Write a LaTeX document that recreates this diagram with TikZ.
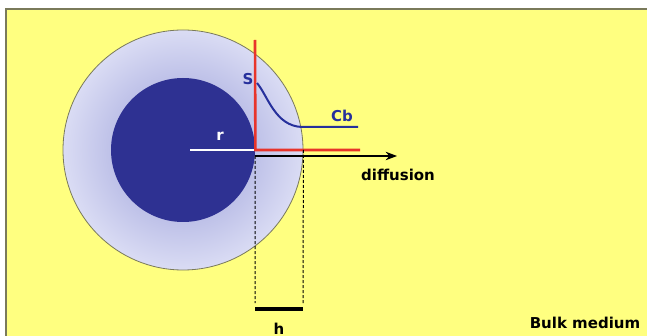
\documentclass[tikz,border=0pt]{standalone}
\usepackage{fontspec}
\setsansfont{DejaVu Sans}
\usetikzlibrary{arrows.meta}
\definecolor{bulkc}{HTML}{FFFF80}
\definecolor{framec}{HTML}{7A7A5A}
\definecolor{corec}{HTML}{2E3192}
\definecolor{ringin}{HTML}{BEC1E8}
\definecolor{ringout}{HTML}{DADCF4}
\definecolor{redc}{HTML}{E8342A}
\definecolor{profc}{HTML}{26309C}
\pgfdeclareradialshading{ringshade}{\pgfpoint{0bp}{0bp}}{%
  color(0bp)=(ringin); color(15bp)=(ringin); color(25bp)=(ringout);
  color(50bp)=(ringout)}
\newcommand{\lbl}[4]{%
  \node[inner sep=0pt, text=#3] (#1) at #2 {#4};
}

\begin{document}
\begin{tikzpicture}[x=0.5pt, y=-0.5pt, >=Stealth,
      font=\sffamily\bfseries\fontsize{7.5}{9}\selectfont]
    \useasboundingbox (0,0) rectangle (647,336);
    % bulk medium
    \fill[white] (0,0) rectangle (647,336);
    \fill[bulkc] (6,9) rectangle (647,336);
    \draw[framec, line width=1pt] (6,336) -- (6,9) -- (647,9);
    % film and particle
    \node[circle, draw=framec, line width=0.4pt, shading=ringshade,
          minimum size=120pt, inner sep=0pt] (film) at (183,150) {};
    \node[circle, fill=corec, minimum size=72pt, inner sep=0pt]
          (core) at (183,150) {};
    \coordinate (rstart) at (190,150);
    \coordinate (ytop) at (255,40);
    \coordinate (xend) at (360,150);
    \coordinate (cstart) at (257,83);
    \coordinate (cknee) at (302,127);
    \coordinate (cend) at (358,127);
    \coordinate (astart) at (255,156);
    \coordinate (aend) at (397,156);
    \coordinate (hleft) at (255,309);
    \coordinate (hright) at (303,309);
    \draw[white, line width=1.4pt] (rstart) -- (core.east);
    \draw[redc, line width=1.3pt] (ytop) -- (core.east) -- (xend);
    \draw[profc, line width=1pt] (cstart) .. controls (268,96) and (275,126) .. (cknee)
      -- (cend);
    \draw[->, line width=0.6pt] (astart) -- (aend);
    \draw[dash pattern=on 1.5pt off 1pt, line width=0.5pt]
      (astart) -- (255,303) (film.east) -- (303,303);
    \draw[line width=1.6pt] (hleft) -- (hright);
    % labels
    \lbl{rlab}{(220,136)}{white}{r}
    \lbl{slab}{(248,79)}{profc}{S}
    \lbl{cblab}{(342,116)}{profc}{Cb}
    \lbl{dlab}{(398,175)}{black}{diffusion}
    \lbl{hlab}{(279,329)}{black}{h}
    \lbl{blab}{(585,323)}{black}{Bulk medium}
  \end{tikzpicture}
\end{document}
